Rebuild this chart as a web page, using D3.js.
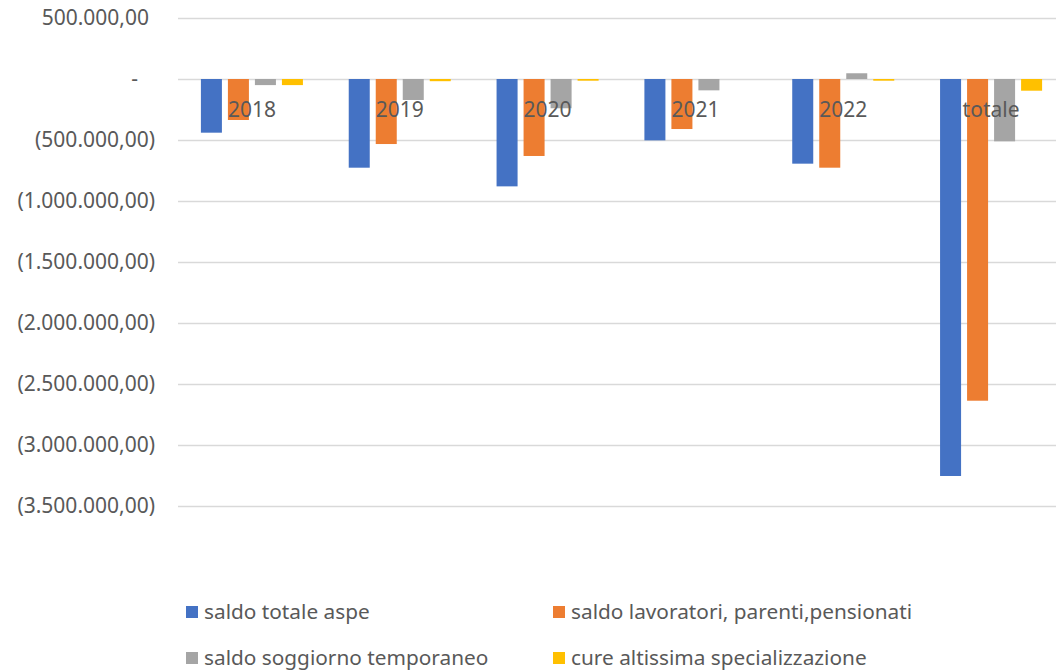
<!DOCTYPE html>
<html>
<head>
<meta charset="utf-8">
<script src="https://cdn.jsdelivr.net/npm/d3@7"></script>
<style>
  html, body { margin: 0; padding: 0; background: #ffffff; }
  svg { display: block; font-family: "Noto Sans", "Open Sans", sans-serif; }
</style>
</head>
<body>
<svg id="chart" width="1056" height="670"></svg>
<script>
// Categories (years plus the overall total)
const categories = ["2018", "2019", "2020", "2021", "2022", "totale"];

// Series names as shown in the legend
const seriesNames = [
  "saldo totale aspe",
  "saldo lavoratori, parenti,pensionati",
  "saldo soggiorno temporaneo",
  "cure altissima specializzazione"
];

// Balance values (euro) per category for each series
const saldoTotaleAspe      = [-440000, -727000, -880000, -503000, -694000, -3254000];
const saldoLavoratori      = [-336000, -533000, -631000, -410000, -727000, -2637000];
const saldoSoggiorno       = [-50000, -172000, -240000, -93000, 47000, -511000];
const cureSpecializzazione = [-50000, -18000, -14000, 0, -14000, -96000];

// Y axis tick values
const yTicks = [500000, 0, -500000, -1000000, -1500000, -2000000, -2500000, -3000000, -3500000];

const seriesValues = [saldoTotaleAspe, saldoLavoratori, saldoSoggiorno, cureSpecializzazione];
const colors = ["#4472C4", "#ED7D31", "#A5A5A5", "#FFC000"];
const textColor = "#595959";

const svg = d3.select("#chart");
svg.append("rect").attr("width", 1056).attr("height", 670).attr("fill", "#ffffff");

const plotLeft = 178, plotRight = 1065;
const y = d3.scaleLinear().domain([-3500000, 500000]).range([506, 18]);
const x = d3.scaleBand().domain(categories).range([plotLeft, plotRight]).paddingInner(0).paddingOuter(0);
const groupPad = 22.9;
const xs = d3.scaleBand().domain(d3.range(seriesNames.length))
  .range([groupPad, x.bandwidth() - groupPad]).paddingInner(0.222).paddingOuter(0);

// Italian accounting-style number format: 1.000.000,00 with negatives in parentheses
const itLocale = d3.formatLocale({ decimal: ",", thousands: ".", grouping: [3], currency: ["€", ""] });
const fmt = itLocale.format(",.2f");
function acct(v) {
  if (v === 0) return "-";
  if (v < 0) return "(" + fmt(-v) + ")";
  return fmt(v);
}

// Horizontal gridlines
svg.append("g")
  .selectAll("line")
  .data(yTicks)
  .join("line")
  .attr("x1", plotLeft).attr("x2", plotRight)
  .attr("y1", d => Math.round(y(d)) + 0.5).attr("y2", d => Math.round(y(d)) + 0.5)
  .attr("stroke", "#d9d9d9").attr("stroke-width", 1.3);

// Y axis labels
const yAxis = d3.axisLeft(y).tickValues(yTicks).tickFormat(acct).tickSize(0).tickPadding(0);
const yG = svg.append("g").attr("transform", "translate(155,0)").call(yAxis);
yG.select(".domain").remove();
yG.selectAll("text")
  .attr("fill", textColor)
  .style("font-size", "21px")
  .style("font-family", "'Noto Sans', sans-serif")
  .attr("x", d => d < 0 ? 0 : (d === 0 ? -17 : -6));

// Bars
const groups = svg.append("g")
  .selectAll("g")
  .data(categories)
  .join("g")
  .attr("transform", c => `translate(${x(c)},0)`);

groups.selectAll("rect")
  .data((c, i) => seriesValues.map((vals, s) => ({ s, v: vals[i] })))
  .join("rect")
  .attr("x", d => xs(d.s))
  .attr("width", xs.bandwidth())
  .attr("y", d => y(Math.max(0, d.v)))
  .attr("height", d => Math.abs(y(d.v) - y(0)))
  .attr("fill", d => colors[d.s]);

// Category labels, sitting just below the zero line
svg.append("g")
  .selectAll("text")
  .data(categories)
  .join("text")
  .attr("x", c => x(c) + x.bandwidth() / 2)
  .attr("y", y(0) + 38)
  .attr("text-anchor", "middle")
  .attr("fill", textColor)
  .style("font-size", "21px")
  .text(c => c);

// Legend (two columns, two rows)
const legendPos = [[186, 612], [553, 612], [186, 658], [553, 658]];
const legend = svg.append("g")
  .selectAll("g")
  .data(seriesNames)
  .join("g")
  .attr("transform", (d, i) => `translate(${legendPos[i][0]},${legendPos[i][1]})`);
legend.append("rect")
  .attr("x", 0).attr("y", -6).attr("width", 12).attr("height", 12)
  .attr("fill", (d, i) => colors[i]);
legend.append("text")
  .attr("x", 18).attr("y", 0).attr("dy", "0.35em")
  .attr("fill", textColor)
  .style("font-size", "20.8px")
  .text(d => d);
</script>
</body>
</html>
